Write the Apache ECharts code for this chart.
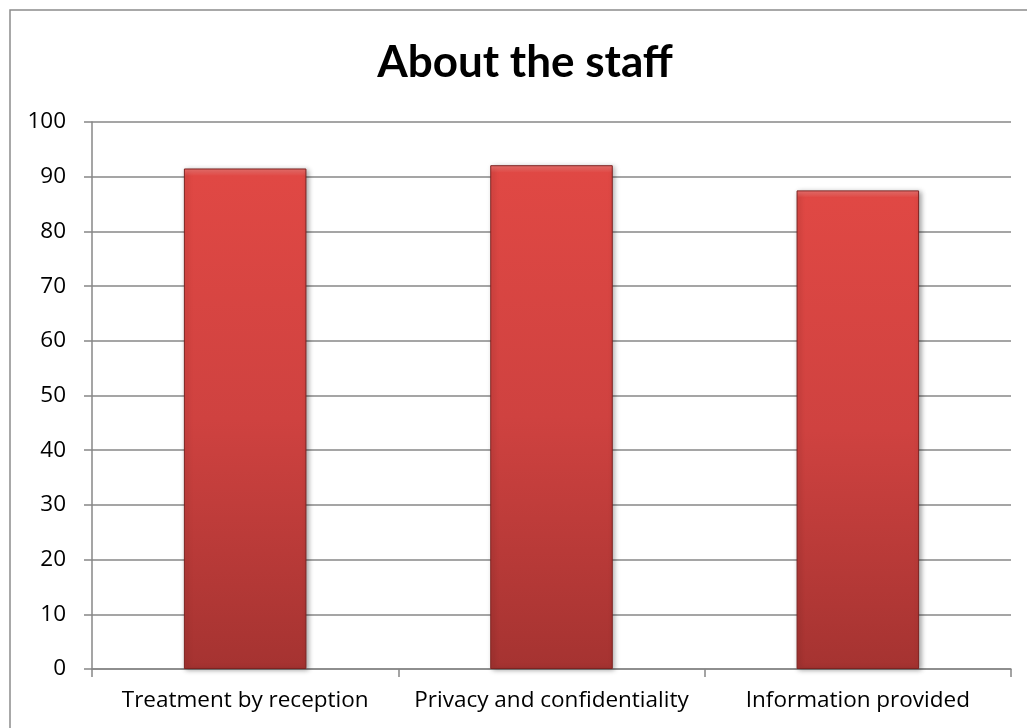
<!DOCTYPE html>
<html>
<head>
<meta charset="utf-8">
<script src="https://cdn.jsdelivr.net/npm/echarts@6/dist/echarts.min.js"></script>
<style>
html,body{margin:0;padding:0;background:#fff;}
#chart{width:1027px;height:728px;}
</style>
</head>
<body>
<div id="chart"></div>
<script>
const titleText = 'About the staff';
const categories = ['Treatment by reception', 'Privacy and confidentiality', 'Information provided'];
const values = [91.5, 92.1, 87.5];
const yTicks = { min: 0, max: 100, interval: 10 };

const chart = echarts.init(document.getElementById('chart'), null, { renderer: 'canvas' });
const labelFont = '"Open Sans", sans-serif';
const titleFont = 'Lato, "Open Sans", sans-serif';
chart.setOption({
  animation: false,
  backgroundColor: '#ffffff',
  title: {
    text: titleText,
    left: 520,
    top: 36,
    textAlign: 'center',
    textStyle: { fontFamily: titleFont, fontWeight: 'bold', fontSize: 44, color: '#000' }
  },
  graphic: [{
    type: 'rect',
    shape: { x: 10, y: 10, width: 1060, height: 760 },
    style: { fill: 'none', stroke: '#8c8c8c', lineWidth: 1.5 },
    silent: true,
    z: 0
  }],
  grid: { left: 92, right: 16, top: 122, bottom: 59 },
  xAxis: {
    type: 'category',
    data: categories,
    axisLine: { lineStyle: { color: '#878787', width: 1.5 } },
    axisTick: { show: true, length: 8, alignWithLabel: false, lineStyle: { color: '#878787', width: 1.5 } },
    axisLabel: { fontFamily: labelFont, fontSize: 22.5, color: '#000', margin: 20, interval: 0, hideOverlap: false }
  },
  yAxis: {
    type: 'value',
    min: yTicks.min,
    max: yTicks.max,
    interval: yTicks.interval,
    axisLine: { show: true, lineStyle: { color: '#878787', width: 1.5 } },
    axisTick: { show: true, length: 8, lineStyle: { color: '#878787', width: 1.5 } },
    splitLine: { lineStyle: { color: '#878787', width: 1.5 } },
    axisLabel: { fontFamily: labelFont, fontSize: 22.5, color: '#000', margin: 26 }
  },
  series: [{
    type: 'bar',
    data: values,
    barWidth: '40%',
    itemStyle: {
      color: new echarts.graphic.LinearGradient(0, 0, 0, 1, [
        { offset: 0, color: '#f07572' },
        { offset: 0.015, color: '#e04844' },
        { offset: 0.5, color: '#cf4240' },
        { offset: 1, color: '#a53331' }
      ]),
      borderColor: '#7d2321',
      borderWidth: 1,
      shadowColor: 'rgba(0,0,0,0.35)',
      shadowBlur: 5,
      shadowOffsetX: 2,
      shadowOffsetY: 1
    }
  }]
});
</script>
</body>
</html>
